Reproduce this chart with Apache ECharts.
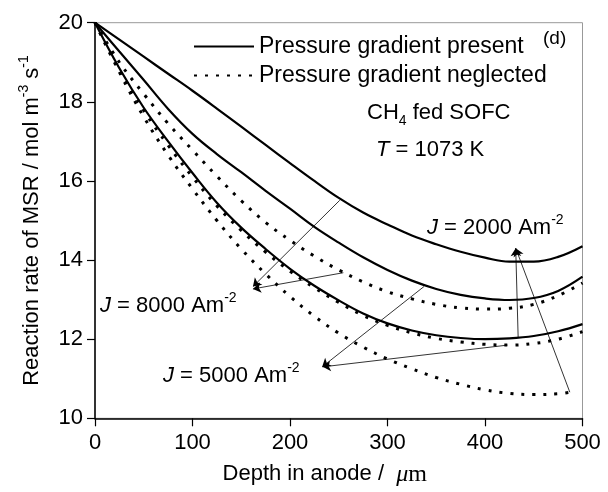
<!DOCTYPE html>
<html>
<head>
<meta charset="utf-8">
<script src="https://cdn.jsdelivr.net/npm/echarts@6/dist/echarts.min.js"></script>
<style>
  html, body { margin: 0; padding: 0; background: #fff; }
  #chart { width: 608px; height: 492px; }
</style>
</head>
<body>
<div id="chart"></div>
<script>
// depth in anode (um)
var depth = [0, 25, 50, 75, 100, 125, 150, 175, 200, 225, 250, 275, 300, 325, 350, 375, 400, 425, 450, 475, 500];
var depthShort = [0, 25, 50, 75, 100, 125, 150, 175, 200, 225, 250, 275, 300, 325, 350, 375, 400, 425, 450, 475, 490];

// pressure gradient present (solid)
var presJ8000 = [20, 19.57, 19.14, 18.71, 18.28, 17.83, 17.37, 16.91, 16.45, 16.0, 15.57, 15.2, 14.9, 14.62, 14.4, 14.21, 14.06, 13.96, 13.96, 14.08, 14.35];
var presJ5000 = [20, 19.27, 18.55, 17.82, 17.19, 16.68, 16.22, 15.75, 15.3, 14.84, 14.44, 14.07, 13.75, 13.48, 13.27, 13.12, 13.03, 12.99, 13.04, 13.22, 13.58];
var presJ2000 = [20, 18.85, 17.85, 17.0, 16.2, 15.45, 14.82, 14.28, 13.78, 13.35, 12.98, 12.65, 12.4, 12.22, 12.1, 12.03, 12.0, 12.02, 12.08, 12.2, 12.38];

// pressure gradient neglected (dotted)
var negJ8000 = [20, 19.0, 18.2, 17.45, 16.78, 16.12, 15.5, 14.95, 14.5, 14.1, 13.75, 13.45, 13.2, 13.02, 12.88, 12.79, 12.76, 12.78, 12.88, 13.1, 13.42];
var negJ5000 = [20, 18.8, 17.78, 16.9, 16.1, 15.37, 14.75, 14.2, 13.72, 13.3, 12.93, 12.6, 12.35, 12.16, 12.02, 11.93, 11.87, 11.85, 11.89, 12.0, 12.19];
var negJ2000 = [20, 18.75, 17.62, 16.65, 15.8, 15.0, 14.28, 13.65, 13.08, 12.58, 12.15, 11.8, 11.5, 11.25, 11.03, 10.86, 10.72, 10.63, 10.6, 10.62, 10.67];

// arrows from curves to the J labels, [from, to] in data units
var arrowLinks = [
  [[251, 15.51], [162, 13.33]],
  [[254.7, 13.68], [162, 13.27]],
  [[337.4, 13.33], [233, 11.3]],
  [[423, 11.85], [233.5, 11.3]],
  [[434, 12.05], [431.5, 14.3]],
  [[487, 10.66], [431.5, 14.3]]
];

var legendNames = ['Pressure gradient present', 'Pressure gradient neglected'];

(function () {
  var chart = echarts.init(document.getElementById('chart'));
  var font = "'Liberation Sans', Arial, sans-serif";

  function pairs (xs, ys) {
    return xs.map(function (x, i) { return [x, ys[i]]; });
  }

  function curve (name, xs, ys, dotted) {
    return {
      name: name,
      type: 'line',
      data: pairs(xs, ys),
      symbol: 'none',
      smooth: 0.4,
      silent: true,
      itemStyle: { color: '#000' },
      lineStyle: dotted
        ? { color: '#000', width: 3, type: [3, 8] }
        : { color: '#000', width: 2.2, type: 'solid' }
    };
  }

  var sup = { fontSize: 14, fontFamily: font, lineHeight: 14, verticalAlign: 'top', fill: '#000' };
  var txt = { fontSize: 22, fontFamily: font, lineHeight: 30, fill: '#000' };
  var ital = { fontSize: 22, fontFamily: font, fontStyle: 'italic', lineHeight: 30, fill: '#000' };
  var sub = { fontSize: 14, fontFamily: font, lineHeight: 14, verticalAlign: 'bottom', fill: '#000' };
  var richText = { t: txt, i: ital, sup: sup, sub: sub };

  function label (x, y, text, size) {
    return {
      type: 'text',
      x: x,
      y: y,
      style: {
        text: text,
        rich: richText,
        font: (size || 22) + 'px ' + font,
        fill: '#000',
        align: 'left',
        verticalAlign: 'middle'
      }
    };
  }

  var option = {
    animation: false,
    backgroundColor: '#fff',
    grid: {
      left: 95,
      right: 25.5,
      top: 22.7,
      bottom: 73.7,
      containLabel: false,
      outerBoundsMode: 'none',
      show: true,
      borderColor: '#999',
      borderWidth: 1
    },
    legend: {
      orient: 'vertical',
      left: 193,
      top: 35,
      padding: 0,
      itemWidth: 60,
      itemHeight: 12,
      itemGap: 6,
      selectedMode: false,
      data: legendNames,
      itemStyle: { opacity: 0 },
      textStyle: { fontSize: 23, color: '#000', fontFamily: font }
    },
    xAxis: {
      type: 'value',
      min: 0,
      max: 500,
      interval: 100,
      name: 'Depth in anode /  {mu|μ}{m|m}',
      nameLocation: 'middle',
      nameGap: 44,
      nameTextStyle: {
        fontSize: 22,
        color: '#000',
        fontFamily: font,
        padding: [0, 28, 0, 0],
        rich: {
          mu: { fontSize: 24, fontStyle: 'italic', fontFamily: "'Liberation Serif', 'DejaVu Serif', serif", color: '#000' },
          m: { fontSize: 24, fontFamily: "'Liberation Serif', 'DejaVu Serif', serif", color: '#000' }
        }
      },
      axisLine: { lineStyle: { color: '#000', width: 1.5 } },
      axisTick: { inside: false, length: 8, lineStyle: { color: '#000', width: 1.2 } },
      axisLabel: { fontSize: 22, color: '#000', fontFamily: font, margin: 14 },
      splitLine: { show: false }
    },
    yAxis: {
      type: 'value',
      min: 10,
      max: 20,
      interval: 2,
      name: '{t|Reaction rate of MSR / mol m}{sup|-3}{t| s}{sup|-1}',
      nameLocation: 'middle',
      nameRotate: 90,
      nameGap: 48,
      nameTextStyle: {
        color: '#000',
        fontFamily: font,
        rich: {
          t: { fontSize: 22, fontFamily: font, lineHeight: 30, color: '#000' },
          sup: { fontSize: 14, fontFamily: font, lineHeight: 14, verticalAlign: 'top', color: '#000' }
        }
      },
      axisLine: { show: true, lineStyle: { color: '#000', width: 1.5 } },
      axisTick: { show: true, inside: false, length: 8, lineStyle: { color: '#000', width: 1.2 } },
      axisLabel: { fontSize: 22, color: '#000', fontFamily: font, margin: 12 },
      splitLine: { show: false }
    },
    graphic: [
      label(543, 39, '(d)', 19),
      label(367, 113, '{t|CH}{sub|4}{t| fed SOFC}'),
      label(376, 150, '{i|T}{t| = 1073 K}'),
      label(427, 228, '{i|J}{t| = 2000 Am}{sup|-2}'),
      label(100, 306, '{i|J}{t| = 8000 Am}{sup|-2}'),
      label(163, 376, '{i|J}{t| = 5000 Am}{sup|-2}')
    ],
    series: [
      curve(legendNames[0], depth, presJ8000, false),
      curve(legendNames[0], depth, presJ5000, false),
      curve(legendNames[0], depth, presJ2000, false),
      curve(legendNames[1], depth, negJ8000, true),
      curve(legendNames[1], depth, negJ5000, true),
      curve(legendNames[1], depthShort, negJ2000, true),
      {
        name: 'arrows',
        type: 'line',
        data: [],
        symbol: 'none',
        silent: true,
        markLine: {
          silent: true,
          symbol: ['none', 'arrow'],
          symbolSize: 8,
          label: { show: false },
          lineStyle: { color: '#000', width: 0.8, type: 'solid' },
          emphasis: { disabled: true },
          data: arrowLinks.map(function (a) {
            return [{ coord: a[0] }, { coord: a[1] }];
          })
        }
      }
    ]
  };

  chart.setOption(option);
  window.addEventListener('resize', function () {
    chart.resize();
  });
})();
</script>
</body>
</html>
